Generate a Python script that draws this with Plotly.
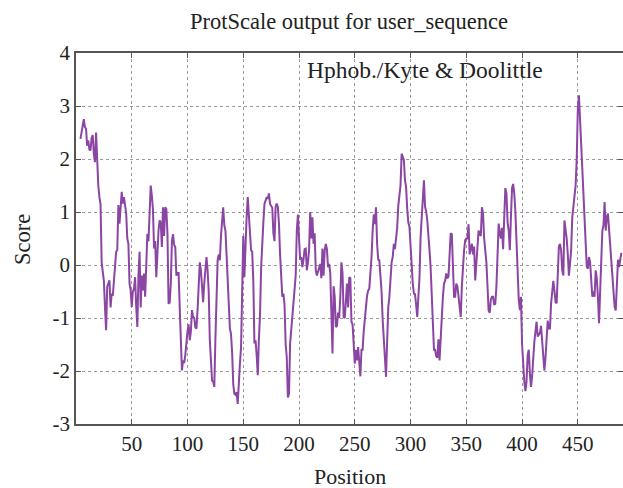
import plotly.graph_objects as go

# Kyte & Doolittle hydropathy scores, window positions starting at 4
start_position = 4
scores = [
    2.38, 2.5, 2.62, 2.75, 2.6, 2.57, 2.25, 2.35, 2.18, 2.16,
    2.4, 2.45, 2.1, 1.94, 2.5, 1.95, 1.5, 1.28, 1.15, 0.05,
    -0.15, -0.3, -0.8, -1.23, -0.41, -0.32, -0.29, -0.8, -0.54, -0.58,
    -0.3, 0.12, 0.25, 0.28, 1.13, 0.78, 1.13, 1.38, 1.16, 1.28,
    1.13, 0.97, 0.5, 0.4, -0.35, -0.48, -0.79, -0.5, -0.45, -0.23,
    -0.79, -1.17, -0.2, 0.25, -0.8, -0.2, -0.48, -0.16, -0.6, -0.05,
    0.59, 0.45, 1.0, 1.5, 1.31, 1.05, 0.31, 0.45, -0.23, 0.4,
    0.65, 0.84, 0.8, 0.34, 1.09, 0.55, 1.09, 1.06, 0.6, -0.73,
    -0.71,
    # 85..
    -0.35, 0.45, 0.58, 0.38, 0.34, -0.2, -0.15, -0.15, -0.8, -1.4,
    -1.99, -1.8, -1.85, -1.7, -1.45, -1.25, -1.12, -1.42, -1.26, -0.85,
    -0.98, -1.0, -1.17, -1.2, -0.85, -0.5, 0.05, -0.1, -0.35, -0.7,
    -0.35, -0.15, 0.15, -0.1, -0.5, -1.42, -1.99, -2.18, -2.2, -2.3,
    -1.4, -0.82, 0.09, 0.2, 0.09, 0.55, 0.92, 1.09, 0.75, 0.65,
    0.2, -0.4, -0.75, -1.2, -1.3, -1.65, -2.25, -2.43, -2.45, -2.4,
    -2.62, -2.05, -1.86, -1.55, -0.64, 0.55, -0.23, 0.5, 0.9, 1.28,
    0.97, 0.6, 0.28, 0.25, -0.3, -1.48, -1.42, -1.7, -2.08, -1.4,
    # 165..
    -0.95, -0.05, 0.5, 0.8, 1.15, 1.22, 1.28, 1.25, 1.35, 1.15,
    1.1, 1.08, 0.6, 0.45, 1.1, 1.16, 1.1, 0.78, 0.2, -0.18,
    -0.6, -0.54, -0.75, -1.5, -1.74, -2.5, -2.43, -1.48, -1.25, -1.0,
    -0.73, -0.5, -0.2, 0.65, 0.95, 0.5, 0.1, 0.15, -0.04, 0.1,
    0.3, 0.31, -0.1, 0.05, 0.28, 1.0, 0.5, 0.9, 0.4, 0.6,
    -0.1, -0.2, -0.1, -0.05, 0.02, -0.25, 0.31, -0.2, 0.27, 0.4,
    0.3, -0.04, 0.02, -0.15, -0.9, -1.67, -0.4, -0.6, -1.17, -1.15,
    -0.9, -1.0, -0.6, 0.05, -0.15, -0.98, -1.0, -0.75, -0.35, -0.8,
    -0.23,
    # 246..
    -0.25, -1.07, -1.12, -1.45, -1.86, -1.6, -1.8, -1.55, -1.95, -2.1,
    -1.6, -1.6, -1.25, -0.92, -0.8, -0.58, -0.48, -0.45, -0.2, 0.15,
    0.65, 0.95, 0.77, 1.09, 0.4, 0.1, 0.09, -0.2, -0.5, -1.04,
    -1.5, -1.75, -2.11, -1.3, -0.8, -0.6, -0.2, 0.05, 0.15, 0.4,
    0.3, 0.53, 0.7, 1.12, 1.31, 1.5, 2.1, 2.03, 1.98, 1.6,
    1.47, 1.06, 0.8, 0.72, 0.28, -0.03, -0.35, -0.54, -0.55, -0.75,
    -0.98, -0.6, -0.25, 0.53, 0.92, 1.4, 1.6, 1.1, 1.01, 0.84,
    0.6, 0.28, -0.05, -0.5, -0.98, -1.6, -1.6, -1.72, -1.75, -1.4,
    # 326..
    -1.8, -1.4, -0.8, -0.6, -0.35, -0.3, -0.16, -0.25, -0.22, 0.27,
    0.6, 0.58, -0.2, -0.6, -0.6, -0.35, -0.4, -0.6, -0.82, -0.98,
    -0.4, 0.05, 0.28, 0.47, 0.5, 0.5, 0.77, 0.2, 0.34, 0.4,
    0.2, 0.35, -0.29, 0.1, 0.45, 0.65, 0.58, 0.55, 1.09, 0.97,
    0.5, 0.28, 0.05, -0.4, -0.86, -0.9, -0.65, -0.6, -0.6, -0.75,
    -0.73, -0.4, 0.1, 0.78, 0.6, 0.5, 0.7, 0.3, 0.9, 1.45,
    1.35, 0.8, 0.65, 0.28, 0.9, 1.45, 1.53, 1.35, 1.0, 0.4,
    -0.2, -0.65, -0.85, -0.6, -1.5, -1.9, -2.2, -2.38, -2.2, -1.7,
    # 406..
    -1.6, -2.05, -2.3, -2.1, -1.7, -1.45, -1.25, -1.07, -1.35, -1.3,
    -1.28, -1.15, -1.4, -1.8, -1.99, -1.75, -1.42, -1.05, -1.2, -1.2,
    -0.73, -0.55, -0.3, -0.48, -0.7, -0.72, 0.03, 0.35, 0.4, 0.28,
    -0.1, -0.2, 0.84, 0.7, 0.5, 0.2, -0.2, 0.03, 0.28, 0.9,
    1.1, 1.35, 1.5, 2.0, 2.95, 3.2, 2.7, 2.16, 1.7, 1.22,
    0.97, 0.4, -0.03, -0.07, 0.15, 0.05, -0.29, -0.6, -0.5, -0.6,
    -0.1, -0.25, -0.6, -1.1, -0.5, 0.05, 0.65, 0.75, 1.19, 0.65,
    0.9, 0.97, 0.65, 0.4, 0.05, -0.1, -0.5, -0.79, -0.86, -0.4,
    0.1, -0.04, 0.1, 0.23,
]
positions = list(range(start_position, start_position + len(scores)))

x_ticks = [50, 100, 150, 200, 250, 300, 350, 400, 450]
y_ticks = [-3, -2, -1, 0, 1, 2, 3, 4]

title_text = "ProtScale output for user_sequence"
legend_text = "Hphob./Kyte &amp; Doolittle"
x_title = "Position"
y_title = "Score"

FONT = "Liberation Serif"
TEXT_COLOR = "#222222"
AXIS_COLOR = "#555555"
GRID_COLOR = "#9a9a9a"

W, H = 623, 488
L, R, T, B = 76, 0, 53, 64
PW, PH = W - L - R, H - T - B

fig = go.Figure()
fig.add_trace(go.Scatter(
    x=positions, y=scores, mode="lines",
    line=dict(color="#8b45a3", width=2),
    showlegend=False, hoverinfo="skip",
))

fig.update_layout(
    width=W, height=H,
    margin=dict(l=L, r=R, t=T, b=B, autoexpand=False),
    paper_bgcolor="white", plot_bgcolor="white",
    font=dict(family=FONT, size=21, color=TEXT_COLOR),
)

fig.update_xaxes(
    range=[0, 490.5], tickvals=x_ticks, ticktext=[str(v) for v in x_ticks],
    showgrid=True, gridcolor=GRID_COLOR, griddash="dot", gridwidth=1,
    showline=True, linecolor=AXIS_COLOR, linewidth=1.5, mirror="ticks",
    ticks="inside", ticklen=5, tickcolor=AXIS_COLOR, tickwidth=1,
    zeroline=False, automargin=False,
    tickfont=dict(family=FONT, size=21, color=TEXT_COLOR),
)
fig.update_yaxes(
    range=[-3, 4], tickvals=y_ticks, ticktext=[str(v) for v in y_ticks],
    showgrid=True, gridcolor=GRID_COLOR, griddash="dot", gridwidth=1,
    showline=True, linecolor=AXIS_COLOR, linewidth=1.5, mirror="ticks",
    ticks="inside", ticklen=5, tickcolor=AXIS_COLOR, tickwidth=1,
    zeroline=False, automargin=False,
    tickfont=dict(family=FONT, size=21, color=TEXT_COLOR),
)

def px_to_paper(px, py):
    return (px - L) / PW, 1 - (py - T) / PH

# title
tx, ty = px_to_paper(349, 22)
fig.add_annotation(text=title_text, xref="paper", yref="paper", x=tx, y=ty,
                   xanchor="center", yanchor="middle", showarrow=False,
                   font=dict(family=FONT, size=22.5, color=TEXT_COLOR))
# key label
kx, ky = px_to_paper(545, 70)
fig.add_annotation(text=legend_text, xref="paper", yref="paper", x=kx, y=ky,
                   xanchor="right", yanchor="middle", showarrow=False,
                   font=dict(family=FONT, size=23.5, color=TEXT_COLOR))
# x title
xx, xy = px_to_paper(350, 476)
fig.add_annotation(text=x_title, xref="paper", yref="paper", x=xx, y=xy,
                   xanchor="center", yanchor="middle", showarrow=False,
                   font=dict(family=FONT, size=22, color=TEXT_COLOR))
# y title
yx, yy = px_to_paper(22, 240)
fig.add_annotation(text=y_title, xref="paper", yref="paper", x=yx, y=yy,
                   xanchor="center", yanchor="middle", showarrow=False,
                   textangle=-90,
                   font=dict(family=FONT, size=22.5, color=TEXT_COLOR))

fig.write_html(
    "out.html",
    config={"displayModeBar": False},
    post_script="document.body.style.margin='0';document.body.style.padding='0';",
)
